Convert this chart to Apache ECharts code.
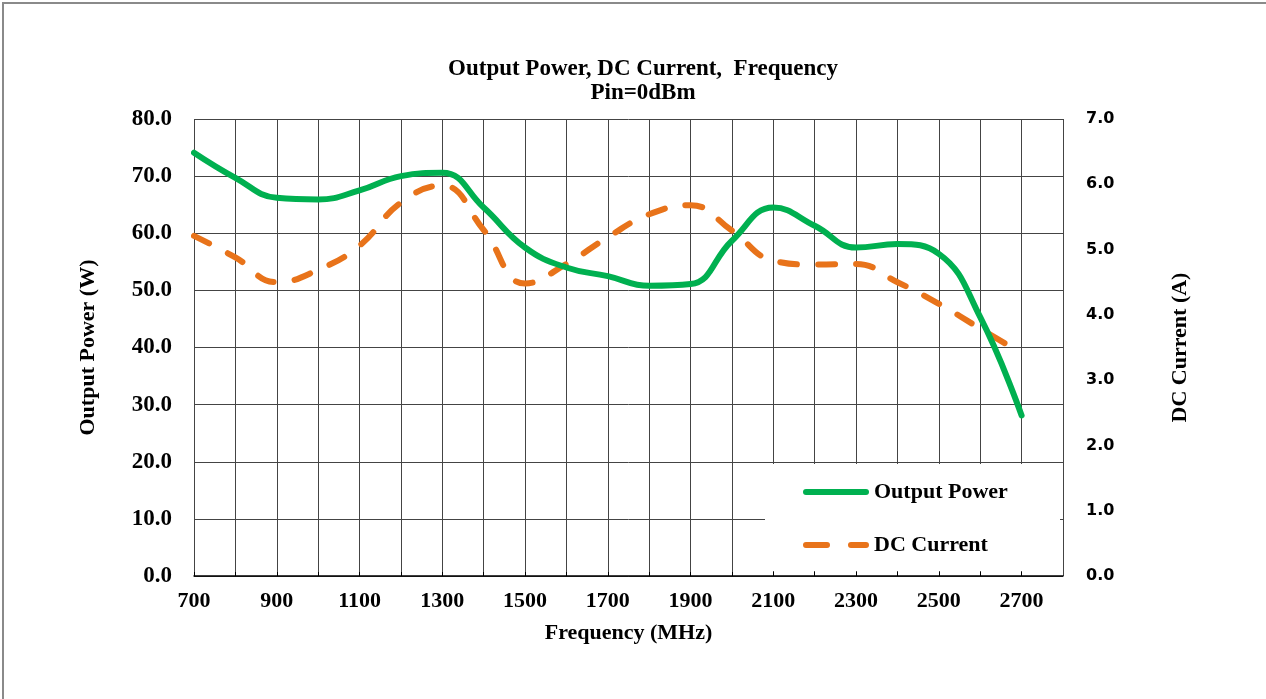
<!DOCTYPE html>
<html>
<head>
<meta charset="utf-8">
<script src="https://cdn.jsdelivr.net/npm/echarts@6/dist/echarts.min.js"></script>
<style>
html,body{margin:0;padding:0;background:#fff;}
#chart{position:absolute;left:0;top:0;width:1266px;height:699px;}
#frame{position:absolute;left:2px;top:2px;width:1264px;height:697px;border-top:2px solid #8a8a8a;border-left:2px solid #8a8a8a;pointer-events:none;box-sizing:border-box;}
</style>
</head>
<body>
<div id="chart"></div>
<div id="frame"></div>
<script>
// Frequency (MHz)
const frequency = [700, 800, 900, 1000, 1100, 1200, 1300, 1400, 1500, 1600, 1700,
                   1800, 1900, 2000, 2100, 2200, 2300, 2400, 2500, 2600, 2700];
// Output Power (W)
const outputPower = [74.1, 69.7, 66.2, 65.9, 67.5, 70.0, 70.6, 64.5, 57.5, 54.0, 52.5,
                     50.8, 51.1, 58.7, 64.5, 61.3, 57.5, 58.1, 56.4, 45.3, 28.1];
// DC Current (A)
const dcCurrent = [5.21, 4.88, 4.50, 4.69, 5.06, 5.72, 5.98, 5.30, 4.48, 4.78, 5.19,
                   5.54, 5.68, 5.29, 4.83, 4.77, 4.78, 4.50, 4.17, 3.79, 3.41];

const titleText = 'Output Power, DC Current,  Frequency\nPin=0dBm';
const seriesNames = ['Output Power', 'DC Current'];

const serif = "'Liberation Serif', 'Times New Roman', serif";
const sans = "'DejaVu Sans', Verdana, sans-serif";
const GREEN = '#00b050';
const ORANGE = '#e8731a';
const GRIDC = '#444444';

const solidIcon = 'path://M3,0 H63 A3,3 0 0 1 63,6 H3 A3,3 0 0 1 3,0 Z';
const dashIcon = 'path://M3,0 H24 A3,3 0 0 1 24,6 H3 A3,3 0 0 1 3,0 Z M48,0 H63 A3,3 0 0 1 63,6 H48 A3,3 0 0 1 48,0 Z';

const chart = echarts.init(document.getElementById('chart'), null, {renderer: 'canvas'});
chart.setOption({
  backgroundColor: '#ffffff',
  animation: false,
  title: {
    text: titleText,
    left: 638, top: 52, textAlign: 'center',
    textStyle: {fontFamily: serif, fontWeight: 'bold', fontSize: 23, lineHeight: 24, color: '#000'}
  },
  grid: {left: 194, right: 203, top: 119, bottom: 123, containLabel: false},
  xAxis: {
    type: 'value', min: 700, max: 2800, interval: 100,
    name: 'Frequency (MHz)', nameLocation: 'middle', nameGap: 46,
    nameTextStyle: {fontFamily: serif, fontWeight: 'bold', fontSize: 22, color: '#000'},
    axisLine: {show: true, lineStyle: {color: '#000', width: 1.5}},
    axisTick: {show: true, inside: true, length: 4, lineStyle: {color: '#000'}},
    axisLabel: {
      margin: 14, fontFamily: serif, fontWeight: 'bold', fontSize: 22, color: '#000',
      showMaxLabel: false,
      formatter: v => ((v - 700) % 200 === 0 && v <= 2700) ? String(v) : ''
    },
    splitLine: {show: true, lineStyle: {color: GRIDC, width: 1}}
  },
  yAxis: [
    {
      type: 'value', min: 0, max: 80, interval: 10, position: 'left',
      name: 'Output Power (W)', nameLocation: 'middle', nameGap: 95,
      nameTextStyle: {fontFamily: serif, fontWeight: 'bold', fontSize: 22, color: '#000'},
      axisLine: {show: false}, axisTick: {show: false},
      axisLabel: {margin: 22, fontFamily: serif, fontWeight: 'bold', fontSize: 23, color: '#000',
                  formatter: v => v.toFixed(1)},
      splitLine: {show: true, lineStyle: {color: GRIDC, width: 1}}
    },
    {
      type: 'value', min: 0, max: 7, interval: 1, position: 'right',
      name: 'DC Current (A)', nameLocation: 'middle', nameGap: 106,
      nameTextStyle: {fontFamily: serif, fontWeight: 'bold', fontSize: 22, color: '#000'},
      axisLine: {show: false}, axisTick: {show: false},
      axisLabel: {margin: 23, fontFamily: sans, fontWeight: 'bold', fontSize: 16, color: '#000',
                  formatter: v => v.toFixed(1)},
      splitLine: {show: false}
    }
  ],
  graphic: [{
    type: 'rect', z: 3, silent: true,
    shape: {x: 765, y: 464, width: 295, height: 107},
    style: {fill: '#ffffff'}
  }],
  legend: {
    z: 5, padding: 0,
    orient: 'vertical', left: 803, top: 481,
    itemWidth: 66, itemHeight: 6, itemGap: 31, itemTextGap: 3,
    textStyle: {fontFamily: serif, fontWeight: 'bold', fontSize: 22, color: '#000'},
    data: [
      {name: seriesNames[0], icon: solidIcon, itemStyle: {color: GREEN}},
      {name: seriesNames[1], icon: dashIcon, itemStyle: {color: ORANGE}}
    ]
  },
  series: [
    {
      name: seriesNames[0], type: 'line', yAxisIndex: 0, smooth: 0.45,
      symbol: 'none', showSymbol: false,
      data: frequency.map((f, i) => [f, outputPower[i]]),
      lineStyle: {color: GREEN, width: 6, cap: 'round', join: 'round'},
      itemStyle: {color: GREEN}, z: 3
    },
    {
      name: seriesNames[1], type: 'line', yAxisIndex: 1, smooth: 0.45,
      symbol: 'none', showSymbol: false,
      data: frequency.map((f, i) => [f, dcCurrent[i]]),
      lineStyle: {color: ORANGE, width: 6, type: [17, 21], cap: 'round', join: 'round'},
      itemStyle: {color: ORANGE}, z: 2
    }
  ]
});
</script>
</body>
</html>
